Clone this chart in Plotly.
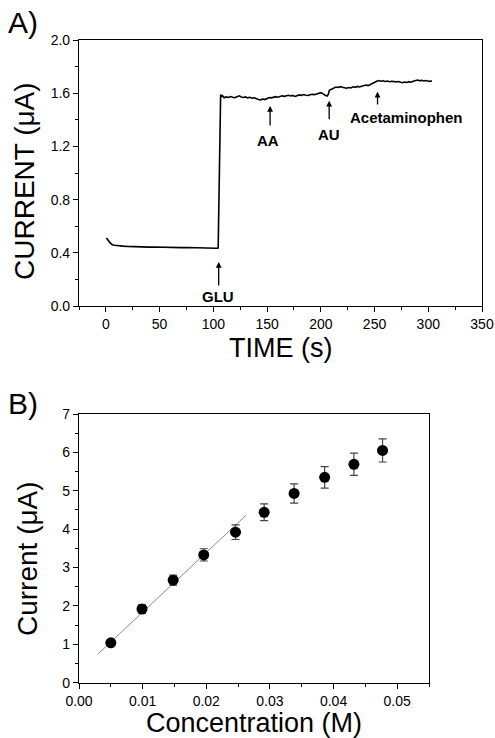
import plotly.graph_objects as go

# ---------------- Panel A data: amperometric trace ----------------
time_s = [0.5, 1, 2, 3, 4, 5, 6, 8, 10, 13, 16, 20, 25, 30, 35, 40, 45, 50, 55, 60,
          65, 70, 75, 80, 85, 90, 95, 100, 103, 104.5, 105.3, 106, 106.8, 107.5, 108.5,
          110, 112, 114, 116, 118, 120, 122, 124, 126, 128, 130, 132, 134, 136, 138,
          140, 142, 144, 146, 148, 150, 152, 154, 156, 158, 160, 162, 164, 166, 168,
          170, 172, 174, 176, 178, 180, 182, 184, 186, 188, 190, 192, 194, 196, 198,
          200, 202, 204, 206, 207, 208, 210, 212, 214, 216, 218, 220, 222, 224, 226,
          228, 230, 232, 234, 236, 238, 240, 242, 244, 246, 248, 250, 252, 254, 256,
          258, 260, 262, 264, 266, 268, 270, 272, 274, 276, 278, 280, 282, 284, 286,
          288, 290, 292, 294, 296, 298, 300, 302, 303.4]
current_uA = [0.512, 0.508, 0.497, 0.485, 0.474, 0.466, 0.461, 0.457, 0.454, 0.452,
              0.450, 0.448, 0.446, 0.445, 0.444, 0.443, 0.444, 0.442, 0.441, 0.442,
              0.440, 0.439, 0.440, 0.438, 0.437, 0.438, 0.436, 0.435, 0.434, 0.436,
              0.80, 1.20, 1.59, 1.575, 1.582,
              1.566, 1.572, 1.568, 1.575, 1.570, 1.566, 1.573, 1.580, 1.571, 1.568,
              1.572, 1.565, 1.569, 1.562, 1.566, 1.558, 1.553, 1.550, 1.556, 1.552,
              1.560, 1.567, 1.565, 1.571, 1.574, 1.570, 1.577, 1.580, 1.576, 1.582,
              1.584, 1.579, 1.583, 1.576, 1.581, 1.587, 1.584, 1.590, 1.585, 1.583,
              1.588, 1.592, 1.589, 1.595, 1.600, 1.604, 1.597, 1.584, 1.579, 1.592,
              1.622, 1.630, 1.642, 1.646, 1.643, 1.649, 1.645, 1.640, 1.637, 1.643,
              1.639, 1.648, 1.644, 1.651, 1.647, 1.653, 1.656, 1.661, 1.657, 1.666,
              1.670, 1.678, 1.690, 1.695, 1.690, 1.693, 1.688, 1.691, 1.686, 1.690,
              1.687, 1.685, 1.688, 1.682, 1.679, 1.684, 1.681, 1.687, 1.683, 1.690,
              1.695, 1.699, 1.693, 1.697, 1.692, 1.695, 1.690, 1.693, 1.691]

# additions (label, time of addition)
add_labels = ["GLU", "AA", "AU", "Acetaminophen"]
add_times = [105, 152.8, 207.8, 252.8]

# ---------------- Panel B data: calibration ----------------
conc_M = [0.0050, 0.0099, 0.0148, 0.0196, 0.0246, 0.0291, 0.0338, 0.0386, 0.0432, 0.0477]
resp_uA = [1.04, 1.92, 2.67, 3.33, 3.92, 4.44, 4.93, 5.35, 5.69, 6.05]
resp_err = [0.05, 0.11, 0.13, 0.16, 0.19, 0.22, 0.25, 0.28, 0.29, 0.30]
fit_x = [0.0030, 0.0263]
fit_y = [0.75, 4.37]

FONT = "Liberation Sans, Arial, sans-serif"
W, H = 495, 738

fig = go.Figure()

fig.add_trace(go.Scatter(x=time_s, y=current_uA, mode="lines",
                         line=dict(color="black", width=1.6),
                         xaxis="x", yaxis="y", showlegend=False))

fig.add_trace(go.Scatter(x=fit_x, y=fit_y, mode="lines",
                         line=dict(color="#8a8a8a", width=1),
                         xaxis="x2", yaxis="y2", showlegend=False))

fig.add_trace(go.Scatter(x=conc_M, y=resp_uA, mode="markers",
                         marker=dict(color="black", size=11),
                         error_y=dict(type="data", array=resp_err, visible=True,
                                      color="#444444", thickness=1.2, width=4),
                         xaxis="x2", yaxis="y2", showlegend=False))

def px_x(p):
    return p / W

def px_y(p):
    return 1 - p / H

tickfont = dict(family=FONT, size=14, color="black")

common = dict(showgrid=False, zeroline=False, showline=True, linecolor="black",
              linewidth=1.2, ticks="outside", ticklen=5, tickwidth=1.2,
              tickcolor="black", tickfont=tickfont, automargin=False, mirror=True)

fig.update_layout(
    width=W, height=H,
    margin=dict(l=0, r=0, t=0, b=0, autoexpand=False),
    paper_bgcolor="white", plot_bgcolor="white",
    xaxis=dict(domain=[px_x(79), px_x(482)], range=[-25, 350], anchor="y",
               dtick=50, tick0=0,
               minor=dict(ticks="outside", ticklen=3, dtick=25, tick0=0, tickcolor="black"),
               **common),
    yaxis=dict(domain=[px_y(306), px_y(40)], range=[0, 2.0], anchor="x",
               dtick=0.4, tick0=0, tickformat=".1f",
               minor=dict(ticks="outside", ticklen=3, dtick=0.2, tick0=0, tickcolor="black"),
               **common),
    xaxis2=dict(domain=[px_x(79), px_x(429)], range=[0, 0.055], anchor="y2",
                dtick=0.01, tick0=0, tickformat=".2f",
                minor=dict(ticks="outside", ticklen=3, dtick=0.005, tick0=0, tickcolor="black"),
                **common),
    yaxis2=dict(domain=[px_y(682.7), px_y(414)], range=[0, 7], anchor="x2",
                dtick=1, tick0=0,
                minor=dict(ticks="outside", ticklen=3, dtick=0.5, tick0=0, tickcolor="black"),
                **common),
)

annots = []
# panel labels
annots.append(dict(text="A)", x=px_x(6), y=px_y(22), xref="paper", yref="paper",
                   xanchor="left", yanchor="middle", showarrow=False,
                   font=dict(family=FONT, size=30, color="black")))
annots.append(dict(text="B)", x=px_x(6), y=px_y(403), xref="paper", yref="paper",
                   xanchor="left", yanchor="middle", showarrow=False,
                   font=dict(family=FONT, size=30, color="black")))

# axis titles
axis_titles = [("TIME (s)", 280, 348, 0, 27),
               ("CURRENT (μA)", 25, 181, -90, 28),
               ("Concentration (M)", 254, 723, 0, 27),
               ("Current (μA)", 27, 559, -90, 28)]
for txt, ax_px, ay_px, ang, fs in axis_titles:
    annots.append(dict(text=txt, x=px_x(ax_px), y=px_y(ay_px), xref="paper", yref="paper",
                       xanchor="center", yanchor="middle", showarrow=False, textangle=ang,
                       font=dict(family=FONT, size=fs, color="black")))

# arrows (head, tail) and labels for additions
arrow_heads = [0.331, 1.504, 1.544, 1.611]
arrow_tails = [0.143, 1.346, 1.393, 1.504]
label_x = [104, 151, 207.8, 279.5]
label_y = [0.075, 1.248, 1.286, 1.419]
for lab, t, yh, yt, lx, ly in zip(add_labels, add_times, arrow_heads, arrow_tails, label_x, label_y):
    annots.append(dict(x=t, y=yh, ax=t, ay=yt, xref="x", yref="y", axref="x", ayref="y",
                       text="", showarrow=True, arrowhead=2, arrowsize=0.9,
                       arrowwidth=1.3, arrowcolor="black"))
    annots.append(dict(x=lx, y=ly, xref="x", yref="y", text="<b>%s</b>" % lab,
                       showarrow=False, xanchor="center", yanchor="middle",
                       font=dict(family=FONT, size=15, color="black")))

fig.update_layout(annotations=annots)

fig.write_html("out.html", config={"displayModeBar": False},
               post_script="document.body.style.margin='0';")
